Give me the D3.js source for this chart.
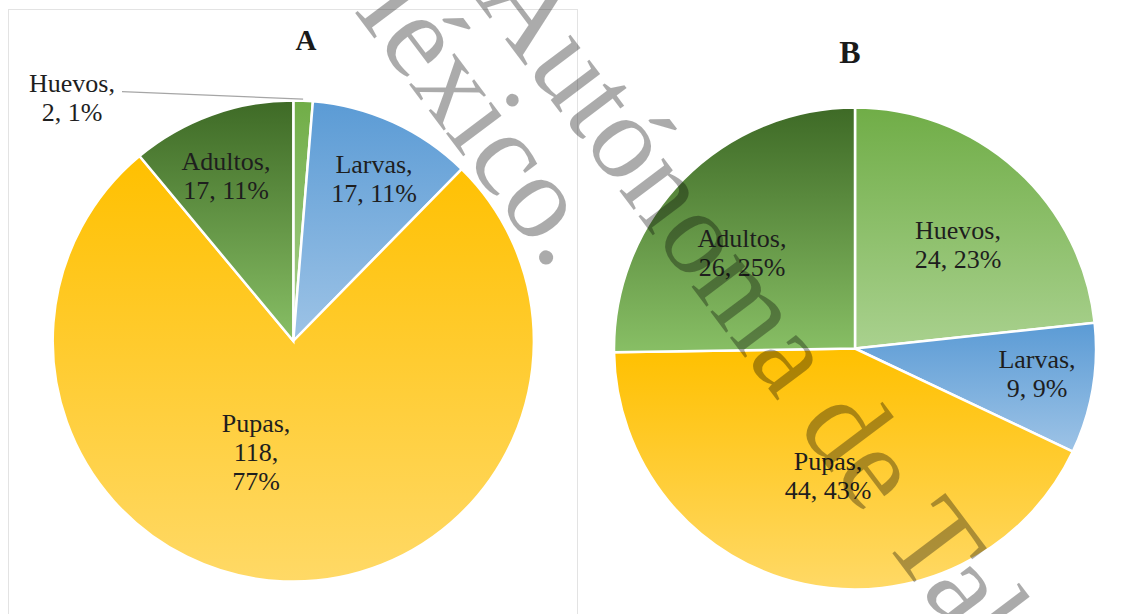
<!DOCTYPE html>
<html>
<head>
<meta charset="utf-8">
<script src="https://cdn.jsdelivr.net/npm/d3@7"></script>
<style>
  html, body { margin: 0; padding: 0; background: #fff; }
  svg { display: block; }
  text { font-family: "Liberation Serif", "Times New Roman", serif; }
</style>
</head>
<body>
<svg id="chart" width="1136" height="614"></svg>
<script>
// Stages of the insect, in the order the slices go clockwise from 12 o'clock.
const stages = ["Huevos", "Larvas", "Pupas", "Adultos"];
const countsA = [2, 17, 118, 17];
const countsB = [24, 9, 44, 26];
const titles = ["A", "B"];

// Gradient of each slice, top colour to bottom colour.
const gradTop = ["#70ad47", "#5b9bd5", "#ffc000", "#3e6a26"];
const gradBottom = ["#a9d18e", "#9dc3e6", "#ffd966", "#88bf65"];

// Layout of the two panels. Label spots are the first baseline of each label.
const panels = [
  {
    cx: 293.3, cy: 341, r: 240.6,
    title: { x: 306, y: 50, size: 29 },
    labels: [[72, 91.7], [374, 173], [256, 432], [226, 170]],
    wrap: [false, false, true, false],
    leader: [true, false, false, false],
    frame: true
  },
  {
    cx: 855, cy: 348.5, r: 241,
    title: { x: 850, y: 62.5, size: 32 },
    labels: [[958, 239], [1037, 368], [828, 470], [742, 247]],
    wrap: [false, false, false, false],
    leader: [false, false, false, false],
    frame: false
  }
];

const svg = d3.select("#chart");
const defs = svg.append("defs");

stages.forEach((s, i) => {
  const g = defs.append("linearGradient")
    .attr("id", "grad-" + i)
    .attr("x1", 0).attr("y1", 0).attr("x2", 0).attr("y2", 1);
  g.append("stop").attr("offset", "0%").attr("stop-color", gradTop[i]);
  g.append("stop").attr("offset", "100%").attr("stop-color", gradBottom[i]);
});

function drawPie(panel, counts, title) {
  const total = d3.sum(counts);
  const rows = stages.map((s, i) => ({ stage: s, value: counts[i], idx: i }));

  if (panel.frame) {
    svg.append("rect")
      .attr("x", 8.5).attr("y", 9.5)
      .attr("width", 569).attr("height", 640)
      .attr("fill", "none")
      .attr("stroke", "#e3e3e3")
      .attr("stroke-width", 1);
  }

  const pie = d3.pie().sort(null).value(d => d.value);
  const arc = d3.arc().innerRadius(0).outerRadius(panel.r);
  const arcs = pie(rows);

  const g = svg.append("g")
    .attr("transform", `translate(${panel.cx},${panel.cy})`);

  g.selectAll("path.slice")
    .data(arcs)
    .join("path")
    .attr("class", "slice")
    .attr("d", arc)
    .attr("fill", d => `url(#grad-${d.data.idx})`)
    .attr("stroke", "#fff")
    .attr("stroke-width", 2.5)
    .attr("stroke-linejoin", "miter");

  svg.append("text")
    .attr("x", panel.title.x)
    .attr("y", panel.title.y)
    .attr("text-anchor", "middle")
    .attr("font-weight", "bold")
    .attr("font-size", panel.title.size)
    .attr("fill", "#1a1a1a")
    .text(title);

  // Leader line from the label to the middle of the slice edge.
  arcs.forEach(d => {
    const i = d.data.idx;
    if (!panel.leader[i]) return;
    const mid = (d.startAngle + d.endAngle) / 2;
    const ex = panel.cx + panel.r * Math.sin(mid);
    const ey = panel.cy - panel.r * Math.cos(mid);
    const [lx, ly] = panel.labels[i];
    svg.append("line")
      .attr("x1", lx + 50).attr("y1", ly)
      .attr("x2", ex).attr("y2", ey - 1.5)
      .attr("stroke", "#a6a6a6")
      .attr("stroke-width", 1.3);
  });

  arcs.forEach(d => {
    const i = d.data.idx;
    const pct = Math.round(d.data.value / total * 100) + "%";
    const lines = panel.wrap[i]
      ? [d.data.stage + ",", d.data.value + ",", pct]
      : [d.data.stage + ",", d.data.value + ", " + pct];
    const [lx, ly] = panel.labels[i];
    const t = svg.append("text")
      .attr("text-anchor", "middle")
      .attr("font-size", 26)
      .attr("fill", "#1e1e1e");
    lines.forEach((ln, k) => {
      t.append("tspan")
        .attr("x", lx)
        .attr("y", ly + k * 28.8)
        .text(ln);
    });
  });
}

panels.forEach((p, i) => {
  const counts = i === 0 ? countsA : countsB;
  drawPie(p, counts, titles[i]);
});

// Watermark of the source document, laid over the charts.
const mark = svg.append("g")
  .attr("transform", "translate(463,-20) rotate(53)")
  .attr("font-size", 120)
  .attr("fill", "#000")
  .attr("fill-opacity", 0.33);
mark.append("text").attr("x", 20).attr("y", 2)
  .text("Autónoma de Tabasco.");
mark.append("text").attr("x", -110).attr("y", 106)
  .text("México.");
</script>
</body>
</html>
